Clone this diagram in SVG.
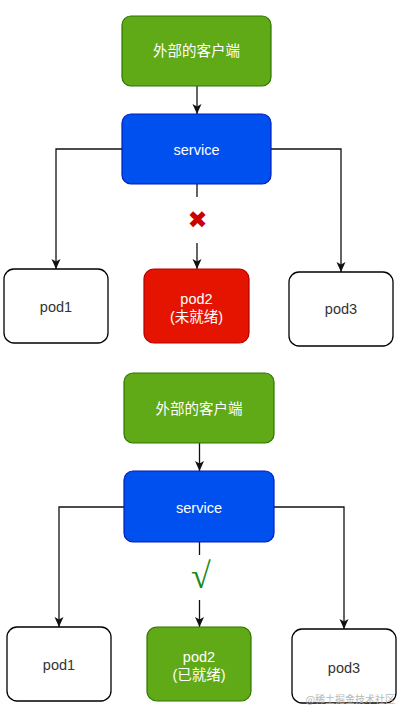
<svg xmlns="http://www.w3.org/2000/svg" width="408" height="717" viewBox="0 0 408 717">
<defs>
<style>
.green{fill:#60a917;stroke:#2d7600;stroke-width:1.2}
.blue{fill:#0050ef;stroke:#001dbc;stroke-width:1.2}
.red{fill:#e51400;stroke:#b20000;stroke-width:1.2}
.pod{fill:#ffffff;stroke:#000000;stroke-width:1.3}
.wt{font-family:"Liberation Sans","Noto Sans CJK SC",sans-serif;font-size:14.5px;fill:#ffffff;text-anchor:middle;dominant-baseline:central}
.dt{font-family:"Liberation Sans","Noto Sans CJK SC",sans-serif;font-size:14.5px;fill:#333333;text-anchor:middle;dominant-baseline:central}
.conn{fill:none;stroke:#111111;stroke-width:1.3}
</style>
<marker id="arr" markerUnits="userSpaceOnUse" viewBox="0 0 10 10" refX="10" refY="5" markerWidth="10" markerHeight="10" orient="auto">
<path d="M0,0.5 L10,5 L0,9.5 L2.5,5 Z" fill="#111111"/>
</marker>
</defs>
<rect width="408" height="717" fill="#ffffff"/>

<g id="connectors">
<path class="conn" d="M197,86 V114" marker-end="url(#arr)"/>
<path class="conn" d="M122,149 H56 V269" marker-end="url(#arr)"/>
<path class="conn" d="M271,149 H341 V272" marker-end="url(#arr)"/>
<path class="conn" d="M197,184 V197"/>
<path class="conn" d="M197,243 V269" marker-end="url(#arr)"/>

<path class="conn" d="M199.5,443 V471" marker-end="url(#arr)"/>
<path class="conn" d="M124,507 H59 V627" marker-end="url(#arr)"/>
<path class="conn" d="M274,507 H344 V629" marker-end="url(#arr)"/>
<path class="conn" d="M199.5,542 V555"/>
<path class="conn" d="M199.5,600 V627" marker-end="url(#arr)"/>
<text x="197.5" y="220" font-family="DejaVu Sans,sans-serif" font-size="24" fill="#cc0000" text-anchor="middle" dominant-baseline="central">✖</text>
<text x="201" y="576" font-family="Liberation Serif,serif" font-size="36" fill="#1a8a1a" text-anchor="middle" dominant-baseline="central">√</text>
</g>

<g id="client1"><rect class="green" x="122" y="16" width="149" height="70" rx="9"/><text class="wt" x="196.5" y="51">外部的客户端</text></g>
<g id="service1"><rect class="blue" x="122" y="114" width="149" height="70" rx="9"/><text class="wt" x="196.5" y="149.5">service</text></g>
<g id="pod1a"><rect class="pod" x="4" y="269" width="104" height="74" rx="10"/><text class="dt" x="56" y="307">pod1</text></g>
<g id="pod2a"><rect class="red" x="144" y="269" width="105" height="74" rx="10"/><text class="wt" x="196.5" y="299">pod2</text><text class="wt" x="196.5" y="317">(未就绪)</text></g>
<g id="pod3a"><rect class="pod" x="289" y="272" width="104" height="74" rx="10"/><text class="dt" x="341" y="309">pod3</text></g>

<g id="client2"><rect class="green" x="124" y="373" width="150" height="70" rx="9"/><text class="wt" x="199" y="409">外部的客户端</text></g>
<g id="service2"><rect class="blue" x="124" y="471" width="150" height="71" rx="9"/><text class="wt" x="199" y="508">service</text></g>
<g id="pod1b"><rect class="pod" x="7" y="627" width="104" height="74" rx="10"/><text class="dt" x="59" y="665">pod1</text></g>
<g id="pod2b"><rect class="green" x="147" y="627" width="104" height="74" rx="10"/><text class="wt" x="199" y="657">pod2</text><text class="wt" x="199" y="675">(已就绪)</text></g>
<g id="pod3b"><rect class="pod" x="292" y="629" width="104" height="74" rx="10"/><text class="dt" x="344" y="668">pod3</text></g>

<text x="395" y="698" font-family="Noto Sans CJK SC,sans-serif" font-size="10" fill="#b8b8b8" text-anchor="end" dominant-baseline="central">@稀土掘金技术社区</text>
</svg>
